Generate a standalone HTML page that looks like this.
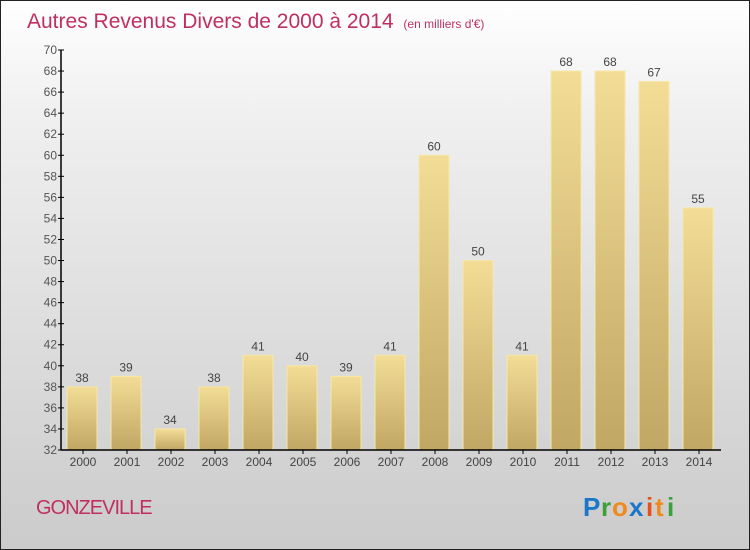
<!DOCTYPE html>
<html><head><meta charset="utf-8"><style>
html,body{margin:0;padding:0}
body{width:750px;height:550px;overflow:hidden;font-family:"Liberation Sans",sans-serif}
#wrap{position:absolute;left:0;top:0;width:748px;height:548px;border:1px solid #222;background:linear-gradient(#fff,#f0f0f0 20%,#cbcbcb)}
</style></head><body>
<div id="wrap">
<svg width="748" height="548" viewBox="1 1 748 548" id="chart" style="position:absolute;left:0;top:0">
<defs><linearGradient id="bg" x1="0" y1="0" x2="0" y2="1"><stop offset="0" stop-color="#f3dd96"/><stop offset="1" stop-color="#c0a764"/></linearGradient></defs>
<text x="27" y="28" font-size="21" fill="#c0305f">Autres Revenus Divers de 2000 à 2014 <tspan font-size="12" dx="4">(en milliers d'€)</tspan></text>
<g id="bars"></g><g id="axes"></g>
<text x="36" y="514" font-size="20" fill="#c0305f" letter-spacing="-1">GONZEVILLE</text>
<g font-size="26" font-weight="bold" font-family="'Liberation Sans',sans-serif">
<text x="583" y="516" fill="#1a77c9">P</text><text x="601" y="516" fill="#3aa03a">r</text><text x="612" y="516" fill="#f08a1c">o</text><text x="629" y="516" fill="#1a77c9">x</text><text x="646" y="516" fill="#e8501a">i</text><text x="655" y="516" fill="#f08a1c">t</text><text x="667" y="516" fill="#3aa03a">i</text>
</g>
</svg></div>
<script>
const categories=["2000","2001","2002","2003","2004","2005","2006","2007","2008","2009","2010","2011","2012","2013","2014"];
const values=[38,39,34,38,41,40,39,41,60,50,41,68,68,67,55];
const yTicks=[32,34,36,38,40,42,44,46,48,50,52,54,56,58,60,62,64,66,68,70];
const NS="http://www.w3.org/2000/svg";
const x0=61,x1=721,yTop=50,yBot=450,yMin=32,yMax=70;
const bw=(x1-x0)/categories.length;
function y(v){return yBot-(v-yMin)/(yMax-yMin)*(yBot-yTop);}
function xs(i){return x0+i*bw;}
function mk(t,a,p){const e=document.createElementNS(NS,t);for(const k in a)e.setAttribute(k,a[k]);p.appendChild(e);return e;}
const bars=document.getElementById('bars'),axes=document.getElementById('axes');
values.forEach((v,i)=>{
 const r=mk('rect',{x:xs(i)+6,y:y(v),width:bw-14,height:yBot-y(v),fill:'url(#bg)',stroke:'#f7e7a6','stroke-width':1},bars);
 
 
 const t=mk('text',{x:xs(i)+6+(bw-14)/2,y:y(v)-5,'text-anchor':'middle','font-size':12,fill:'#444'},bars);
 t.textContent=v;
 
 
 const l=mk('text',{x:xs(i)+bw/2,y:466,'text-anchor':'middle','font-size':12,fill:'#444'},axes);
 l.textContent=categories[i];
 
 
 mk('line',{x1:xs(i)+bw/2,x2:xs(i)+bw/2,y1:yBot,y2:yBot+4,stroke:'#000'},axes);
});
yTicks.forEach(v=>{
 mk('line',{x1:x0-3,x2:x0+3,y1:y(v),y2:y(v),stroke:'#000'},axes);
 const t=mk('text',{x:x0-4,y:y(v)+4,'text-anchor':'end','font-size':12,fill:'#555'},axes);
 t.textContent=v;
 
 
});
const ya=mk('line',{x1:x0,x2:x0,y1:yTop,y2:yBot,stroke:'#000','stroke-width':1.5},axes);


const xa=mk('line',{x1:x0,x2:x1,y1:yBot,y2:yBot,stroke:'#000','stroke-width':1.5},axes);


</script>
</body></html>
